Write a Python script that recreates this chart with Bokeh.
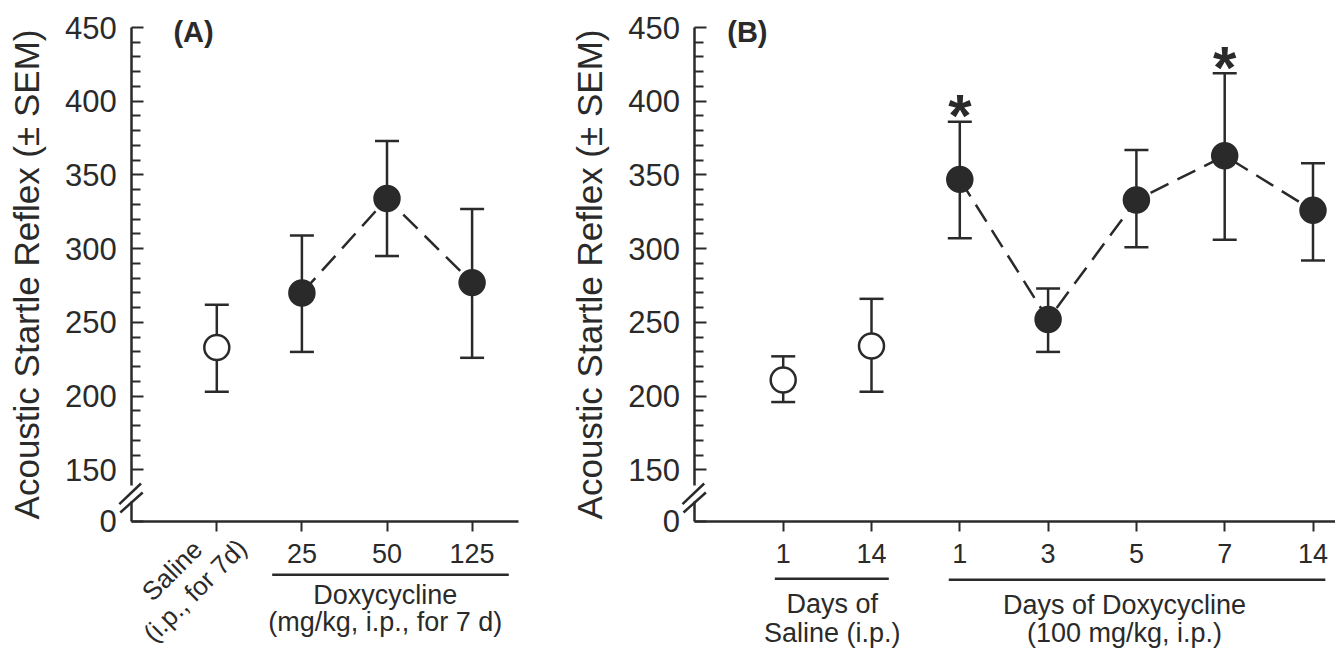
import math
from bokeh.plotting import figure
from bokeh.layouts import row
from bokeh.models import (Range1d, FixedTicker, Label, Whisker, TeeHead,
                          ColumnDataSource)
from bokeh.core.properties import value
from bokeh.embed import file_html
from bokeh.resources import INLINE

# ---------------- data ----------------
# Panel A: dose groups
a_x = [1, 2, 3, 4]
a_tick_labels = ["", "25", "50", "125"]          # saline label drawn rotated
a_mean = [233, 270, 334, 277]
a_upper = [262, 309, 373, 327]
a_lower = [203, 230, 295, 226]
a_open = [True, False, False, False]

# Panel B: days
b_x = [1, 2, 3, 4, 5, 6, 7]
b_tick_labels = ["1", "14", "1", "3", "5", "7", "14"]
b_mean = [211, 234, 347, 252, 333, 363, 326]
b_upper = [227, 266, 386, 273, 367, 419, 358]
b_lower = [196, 203, 307, 230, 301, 306, 292]
b_open = [True, True, False, False, False, False, False]
b_sig = [False, False, True, False, False, True, False]

y_major = [150, 200, 250, 300, 350, 400, 450]
y_label = "Acoustic Startle Reflex (\u00b1 SEM)"

# ---------------- style / layout ----------------
INK = "#2a2a2a"
FONT = "Liberation Sans"
BREAK_BASE = 115      # axis position labelled "0" (broken axis)
Y_TOP = 450
PPU = 1.4746          # pixels per y unit
REF_TOP = 27          # pixel row of the 450 tick
FIG_H = 648


def yv(px_y):
    """data value at a pixel row (for decorations below the axis)"""
    return Y_TOP - (px_y - REF_TOP) / PPU


def make_panel(width, axis_px, spacing, x_axis_end, xs, tick_labels):
    x0 = -axis_px / spacing
    x1 = (width - axis_px) / spacing
    p = figure(width=width, height=FIG_H, x_range=Range1d(x0, x1),
               y_range=Range1d(yv(FIG_H), yv(0)),
               output_backend="svg", toolbar_location=None, min_border=0)
    p.outline_line_color = None
    p.xgrid.visible = False
    p.ygrid.visible = False
    p.background_fill_color = "white"

    ya = p.yaxis[0]
    ya.fixed_location = 0
    ya.bounds = (BREAK_BASE, Y_TOP)
    minors = [v for v in range(160, 450, 10) if v % 50 != 0]
    ya.ticker = FixedTicker(ticks=[BREAK_BASE] + y_major, minor_ticks=minors)
    ya.major_label_overrides = {BREAK_BASE: "0"}
    ya.major_tick_in = 12
    ya.major_tick_out = 0
    ya.minor_tick_in = 9
    ya.minor_tick_out = 0
    ya.major_tick_line_width = 2
    ya.minor_tick_line_width = 2
    ya.axis_line_width = 2.5
    ya.axis_line_color = INK
    ya.major_tick_line_color = INK
    ya.minor_tick_line_color = INK
    ya.major_label_text_font = FONT
    ya.major_label_text_font_size = "31px"
    ya.major_label_text_color = INK
    ya.major_label_standoff = 15
    ya.axis_label = y_label
    ya.axis_label_text_font = FONT
    ya.axis_label_text_font_style = "normal"
    ya.axis_label_text_font_size = "35px"
    ya.axis_label_text_color = INK
    ya.axis_label_standoff = 16

    xa = p.xaxis[0]
    xa.fixed_location = BREAK_BASE
    xa.bounds = (0, x_axis_end)
    xa.ticker = FixedTicker(ticks=xs, minor_ticks=[])
    xa.major_label_overrides = {x: t for x, t in zip(xs, tick_labels)}
    xa.major_tick_in = 0
    xa.major_tick_out = 10
    xa.minor_tick_out = 0
    xa.minor_tick_in = 0
    xa.major_tick_line_width = 2
    xa.axis_line_width = 2.5
    xa.axis_line_color = INK
    xa.major_tick_line_color = INK
    xa.major_label_text_font = FONT
    xa.major_label_text_font_size = "27px"
    xa.major_label_text_color = INK
    xa.major_label_standoff = 13
    return p


def add_break(p, spacing):
    # white-out of the axis line between the break marks, then the two slashes
    p.segment(x0=[0], y0=[BREAK_BASE + 20 / PPU], x1=[0], y1=[BREAK_BASE + 36 / PPU],
              line_color="white", line_width=6, level="overlay")
    marks = [(-12.4, 17.4, 9.3, 38), (-11.4, 9, 11, 29)]
    p.segment(x0=[m[0] / spacing for m in marks],
              y0=[BREAK_BASE + m[1] / PPU for m in marks],
              x1=[m[2] / spacing for m in marks],
              y1=[BREAK_BASE + m[3] / PPU for m in marks],
              line_color=INK, line_width=2.5, level="overlay")


def group_line(p, x0, x1, px_y):
    p.segment(x0=[x0], y0=[yv(px_y)], x1=[x1], y1=[yv(px_y)],
              line_color=INK, line_width=2.5)


def text(p, x, px_y, s, size="27px", **kw):
    p.add_layout(Label(x=x, y=yv(px_y), text=s, text_font=FONT, text_font_size=size,
                       text_color=INK, text_align=kw.pop("align", "center"),
                       text_baseline=kw.pop("baseline", "middle"), **kw))


def draw_series(p, xs, mean, upper, lower, is_open, dashed_idx):
    src = ColumnDataSource(dict(x=xs, mean=mean, upper=upper, lower=lower,
                                fill=["white" if o else INK for o in is_open]))
    p.add_layout(Whisker(base="x", upper="upper", lower="lower", source=src,
                         line_color=INK, line_width=2.5,
                         upper_head=TeeHead(size=24, line_color=INK, line_width=2.5),
                         lower_head=TeeHead(size=24, line_color=INK, line_width=2.5)))
    p.line([xs[i] for i in dashed_idx], [mean[i] for i in dashed_idx],
           line_color=INK, line_width=2.5, line_dash="20 10")
    p.scatter("x", "mean", source=src, size=25, fill_color="fill",
              line_color=INK, line_width=2.5)


# ---------------- panel A ----------------
pA = make_panel(560, 131.2, 85.1, 4.548, a_x, a_tick_labels)
draw_series(pA, a_x, a_mean, a_upper, a_lower, a_open,
            [i for i, o in enumerate(a_open) if not o])
add_break(pA, 85.1)
text(pA, 0.49, 31.5, "(A)", size="29px", align="left", text_font_style="bold")
# rotated saline category label, one line per Label
text(pA, (171.5 - 131.2) / 85.1, 570, "Saline", size="26px", angle=math.radians(45))
text(pA, (194.5 - 131.2) / 85.1, 590, "(i.p., for 7d)", size="26px", angle=math.radians(45))
group_line(pA, 1.651, 4.431, 574.3)
text(pA, 2.98, 594, "Doxycycline")
text(pA, 2.98, 621.7, "(mg/kg, i.p., for 7 d)")

# ---------------- panel B ----------------
pB = make_panel(775, 134.4, 88.3, 7.3, b_x, b_tick_labels)
draw_series(pB, b_x, b_mean, b_upper, b_lower, b_open,
            [i for i, o in enumerate(b_open) if not o])
add_break(pB, 88.3)
text(pB, 0.366, 31.5, "(B)", size="29px", align="left", text_font_style="bold")
sig_x = [x for x, s in zip(b_x, b_sig) if s]
sig_y = [u for u, s in zip(b_upper, b_sig) if s]
pB.text(x=sig_x, y=sig_y, text=["*"] * len(sig_x), text_font=value(FONT),
        text_font_style="bold", text_font_size="60px", text_color=INK,
        text_align="center", text_baseline="alphabetic", y_offset=-6)
group_line(pB, 0.905, 2.196, 578.3)
group_line(pB, 2.875, 7.14, 579.3)
text(pB, 1.555, 603, "Days of")
text(pB, 1.555, 632, "Saline (i.p.)")
text(pB, 4.865, 604, "Days of Doxycycline")
text(pB, 4.865, 632, "(100 mg/kg, i.p.)")

layout = row(pA, pB)
open("out.html", "w").write(file_html(layout, INLINE))
